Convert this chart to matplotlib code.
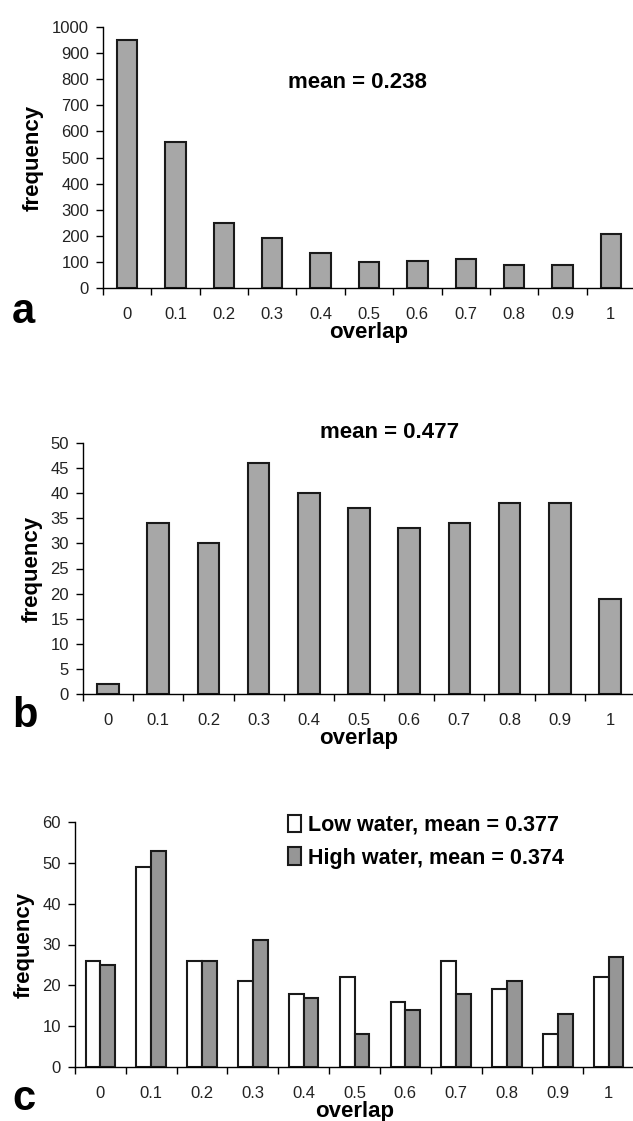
import numpy as np
import matplotlib.pyplot as plt
from matplotlib.patches import Patch

plt.rcParams['font.family'] = ['Liberation Sans', 'DejaVu Sans']

overlap = ['0', '0.1', '0.2', '0.3', '0.4', '0.5', '0.6', '0.7', '0.8', '0.9', '1']

# panel a
freq_a = [950, 560, 250, 193, 135, 100, 105, 110, 87, 87, 205]
# panel b
freq_b = [2, 34, 30, 46, 40, 37, 33, 34, 38, 38, 19]
# panel c
low_water = [26, 49, 26, 21, 18, 22, 16, 26, 19, 8, 22]
high_water = [25, 53, 26, 31, 17, 8, 14, 18, 21, 13, 27]

GRAY = '#a7a7a7'
GRAY_C = '#969696'
EDGE = '#1a1a1a'
W, H = 633, 1121

fig = plt.figure(figsize=(6.33, 11.21), dpi=100)


def px_axes(left, top, right, bottom):
    return fig.add_axes([left / W, 1 - bottom / H, (right - left) / W,
                         (bottom - top) / H])


def style(ax, ymax, ystep):
    x = np.arange(len(overlap))
    ax.set_xlim(-0.5, len(overlap) - 0.5)
    ax.set_ylim(0, ymax)
    ax.set_yticks(np.arange(0, ymax + 1, ystep))
    ax.set_xticks(x)
    ax.set_xticklabels(overlap)
    ax.set_xticks(np.arange(-0.5, len(overlap)), minor=True)
    ax.tick_params(axis='x', which='major', length=0, pad=14, labelsize=12,
                   labelcolor='#222222')
    ax.tick_params(axis='x', which='minor', length=5, width=1, direction='out')
    ax.tick_params(axis='y', length=5, width=1, labelsize=12, pad=5,
                   labelcolor='#222222')
    for s in ['top', 'right']:
        ax.spines[s].set_visible(False)
    for s in ['left', 'bottom']:
        ax.spines[s].set_linewidth(1.0)
    ax.set_ylabel('frequency', fontsize=16, fontweight='bold', labelpad=6)
    ax.set_xlabel('overlap', fontsize=16, fontweight='bold', labelpad=0)


# ---- a ----
ax_a = px_axes(103, 27, 635, 288)
ax_a.bar(np.arange(len(freq_a)), freq_a, width=0.42, color=GRAY,
         edgecolor=EDGE, linewidth=1.5)
style(ax_a, 1000, 100)
fig.text(357 / W, 1 - 83 / H, 'mean = 0.238', ha='center', va='center',
         fontsize=16, fontweight='bold')

# ---- b ----
ax_b = px_axes(83, 443, 635, 694)
ax_b.bar(np.arange(len(freq_b)), freq_b, width=0.43, color=GRAY,
         edgecolor=EDGE, linewidth=1.5)
style(ax_b, 50, 5)
fig.text(390 / W, 1 - 433 / H, 'mean = 0.477', ha='center', va='center',
         fontsize=16, fontweight='bold')

# ---- c ----
ax_c = px_axes(75, 822, 634, 1067)
xc = np.arange(len(overlap))
w = 0.29
ax_c.bar(xc - w / 2, low_water, width=w, color='white', edgecolor=EDGE,
         linewidth=1.5)
ax_c.bar(xc + w / 2, high_water, width=w, color=GRAY_C, edgecolor=EDGE,
         linewidth=1.5)
style(ax_c, 60, 10)
handles = [Patch(facecolor='white', edgecolor=EDGE, linewidth=1.5),
           Patch(facecolor=GRAY_C, edgecolor=EDGE, linewidth=1.5)]
ax_c.legend(handles, ['Low water, mean = 0.377', 'High water, mean = 0.374'],
            loc='upper left', bbox_to_anchor=(279 / W, 1 - 806 / H),
            bbox_transform=fig.transFigure, frameon=False,
            prop={'size': 15.5, 'weight': 'bold'}, handlelength=0.62,
            handleheight=0.85, handletextpad=0.35, labelspacing=0.55,
            borderaxespad=0)

# panel letters
for letter, y in [('a', 332), ('b', 736), ('c', 1119)]:
    fig.text(12 / W, 1 - y / H, letter, fontsize=30, fontweight='bold',
             va='bottom')

fig.savefig('out.png', dpi=100)
